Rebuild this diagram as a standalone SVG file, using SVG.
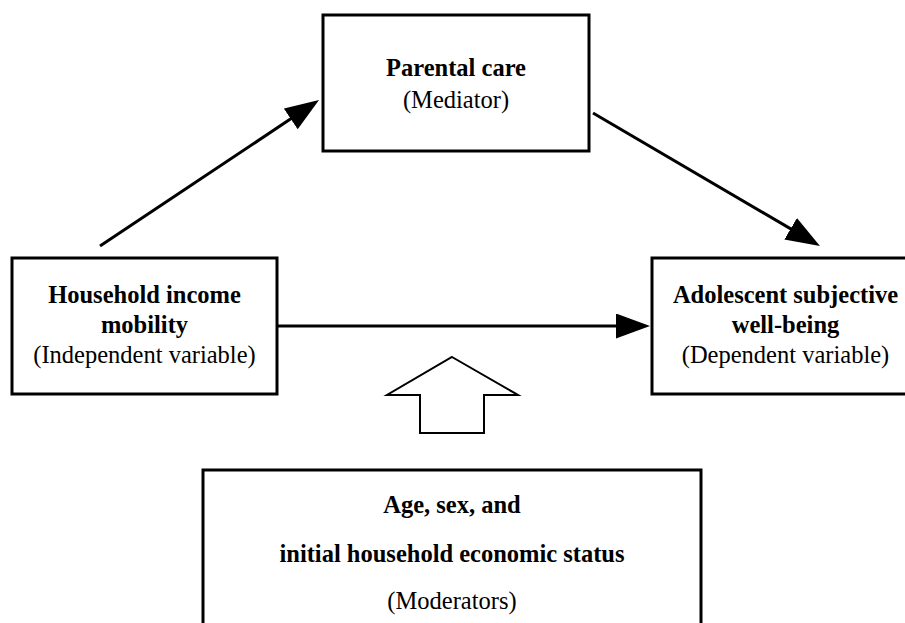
<svg xmlns="http://www.w3.org/2000/svg" width="905" height="623" viewBox="0 0 905 623">
<style>
.box{fill:#fff;stroke:#000;stroke-width:3}
.conn{stroke:#000;stroke-width:3;fill:none}
.b{font-family:"Liberation Serif","Times New Roman",serif;font-weight:bold;font-size:24.5px;fill:#000;text-anchor:middle}
.r{font-family:"Liberation Serif","Times New Roman",serif;font-size:24.5px;fill:#000;text-anchor:middle}
</style>
<defs>
<marker id="ah" markerUnits="userSpaceOnUse" markerWidth="36" markerHeight="26" refX="14" refY="12.5" orient="auto" viewBox="0 0 36 26">
<path d="M0,0 L34,12.5 L0,25 z" fill="#000"/>
</marker>
</defs>
<rect width="905" height="623" fill="#fff"/>
<g id="connectors">
<line class="conn" x1="100" y1="246" x2="302.4" y2="111.1" marker-end="url(#ah)"/>
<line class="conn" x1="593" y1="113" x2="802.7" y2="235.9" marker-end="url(#ah)"/>
<line class="conn" x1="277" y1="326" x2="630" y2="326" marker-end="url(#ah)"/>
<path id="moderation-arrow" d="M452,357 L518,395 L484,395 L484,433 L420,433 L420,395 L387,395 Z" fill="#fff" stroke="#000" stroke-width="2"/>
</g>
<g id="mediator">
<rect class="box" x="323" y="15" width="266" height="136"/>
<text class="b" x="456" y="76">Parental care</text>
<text class="r" x="456" y="108">(Mediator)</text>
</g>
<g id="independent">
<rect class="box" x="12" y="258" width="265" height="136"/>
<text class="b" x="144.5" y="303">Household income</text>
<text class="b" x="144.5" y="333">mobility</text>
<text class="r" x="144.5" y="363">(Independent variable)</text>
</g>
<g id="dependent">
<rect class="box" x="652" y="258" width="266" height="136"/>
<text class="b" x="785.5" y="303">Adolescent subjective</text>
<text class="b" x="785.5" y="333">well-being</text>
<text class="r" x="785.5" y="363">(Dependent variable)</text>
</g>
<g id="moderators">
<rect class="box" x="203" y="470" width="498" height="170"/>
<text class="b" x="452" y="513">Age, sex, and</text>
<text class="b" x="452" y="562">initial household economic status</text>
<text class="r" x="452" y="609">(Moderators)</text>
</g>
</svg>
